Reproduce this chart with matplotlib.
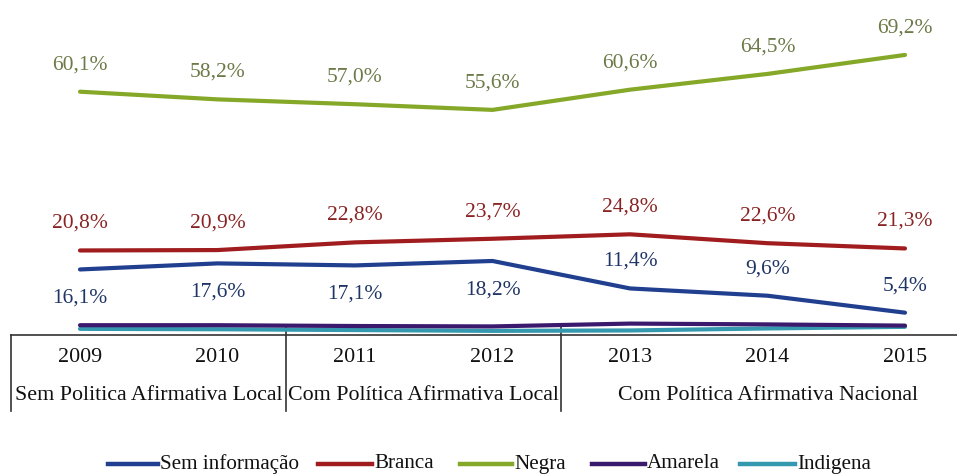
import matplotlib
matplotlib.use("Agg")
import matplotlib.pyplot as plt
from matplotlib.lines import Line2D
import matplotlib.transforms as mtransforms

years = ["2009", "2010", "2011", "2012", "2013", "2014", "2015"]
periods = ["Sem Politica Afirmativa Local", "Com Política Afirmativa Local", "Com Política Afirmativa Nacional"]
period_spans = [(0, 1), (2, 3), (4, 6)]

sem_info = [16.1, 17.6, 17.1, 18.2, 11.4, 9.6, 5.4]
branca = [20.8, 20.9, 22.8, 23.7, 24.8, 22.6, 21.3]
negra = [60.1, 58.2, 57.0, 55.6, 60.6, 64.5, 69.2]
amarela = [2.3, 2.3, 2.1, 2.0, 2.7, 2.5, 2.2]
indigena = [1.4, 1.3, 1.1, 0.9, 1.0, 1.5, 1.9]

series_names = ["Sem informação", "Branca", "Negra", "Amarela", "Indigena"]
series_vals = [sem_info, branca, negra, amarela, indigena]
line_colors = ["#203f8f", "#a01c1e", "#86a828", "#3b1a6e", "#3499ae"]
label_colors = {"Sem informação": "#1f3566", "Branca": "#8a2424", "Negra": "#6b7a48"}

W, H = 957, 476
fig = plt.figure(figsize=(W / 100, H / 100), dpi=100)
base_px = 334.5
ax = fig.add_axes([11.25 / W, (H - base_px) / H, 1 - 11.25 / W, base_px / H])
slot = 137.5
ax.set_xlim(-0.5, (W - 11.25) / slot - 0.5)
ax.set_ylim(0, base_px / 4.04)
for s in ["top", "right", "left"]:
    ax.spines[s].set_visible(False)
ax.spines["bottom"].set_color("#333333")
ax.spines["bottom"].set_linewidth(1.2)
ax.set_xticks([])
ax.set_yticks([])

x = list(range(len(years)))
order = [4, 3, 0, 1, 2]
for i in order:
    ax.plot(x, series_vals[i], color=line_colors[i], lw=3.0, solid_capstyle="round",
            solid_joinstyle="round", zorder=3 + (i == 3))

serif = "Liberation Serif"
fs_lab = 15.5
fs_tab = 15.8
# data labels (pixel offsets)
for i, name in enumerate(series_names[:3]):
    for xi, v in zip(x, series_vals[i]):
        if name == "Sem informação" and xi <= 3:
            off = -29
        else:
            off = 27
        ax.annotate(f"{v:.1f}%".replace(".", ","), (xi, v), xytext=(0, off * 0.72),
                    textcoords="offset points", ha="center", va="center",
                    fontsize=fs_lab, family=serif, color=label_colors[name])

# table
trans = mtransforms.blended_transform_factory(ax.transData, ax.transAxes)
for b in [-0.5, 1.5, 3.5]:
    y0 = 0.0 if b == -0.5 else 0.025
    ax.plot([b, b], [y0, -0.23], color="#333333", lw=1.2, transform=trans, clip_on=False)
for xi, yr in zip(x, years):
    ax.text(xi, (base_px - 357) / base_px, yr, transform=trans, ha="center", va="center",
            fontsize=fs_tab, family=serif, color="#111111")
for (a, b), p in zip(period_spans, periods):
    ax.text((a + b) / 2, (base_px - 395) / base_px, p, transform=trans, ha="center", va="center",
            fontsize=fs_tab, family=serif, color="#111111")

# legend
leg_y = 1 - 464 / H
leg_items = [(108, 158), (318, 372), (460, 512), (592, 645), (740, 795)]
for (x0, x1), name, col in zip(leg_items, series_names, line_colors):
    fig.add_artist(Line2D([x0 / W, x1 / W], [leg_y, leg_y], color=col, lw=3.2,
                          transform=fig.transFigure))
    fig.text((x1 + 2) / W, leg_y, name, ha="left", va="center", fontsize=15.2,
             family=serif, color="#111111")

fig.savefig("out.png", dpi=100, facecolor="white")
